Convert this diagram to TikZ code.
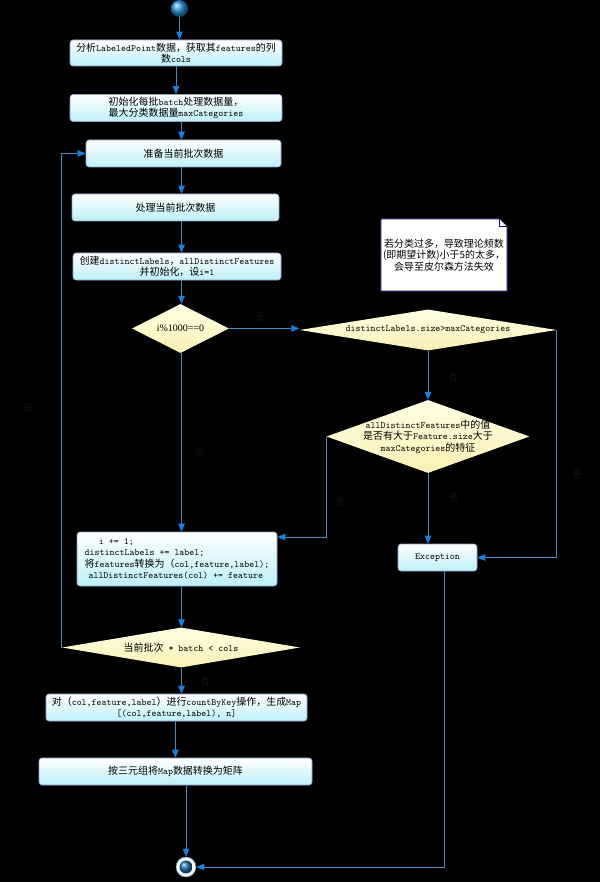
\documentclass[tikz,border=0pt]{standalone}
\usepackage{fontspec}
\newfontfamily\cjk[Scale=1.05]{Noto Sans CJK SC}
\newfontfamily\tnr{Liberation Serif}
\usetikzlibrary{shapes.geometric,arrows.meta}
\newcommand\zh[1]{{\cjk #1}}
\definecolor{boxline}{RGB}{140,160,210}
\definecolor{boxcyan}{RGB}{188,240,248}
\definecolor{diatop}{RGB}{255,255,228}
\definecolor{diabot}{RGB}{250,240,180}
\definecolor{linec}{RGB}{70,140,195}
\definecolor{tipc}{RGB}{20,130,220}
\definecolor{faintc}{RGB}{22,22,22}
\definecolor{notenavy}{RGB}{20,20,110}
\definecolor{startblue}{RGB}{40,150,220}
\definecolor{endblue}{RGB}{30,110,180}
\tikzset{
  txt/.style={font=\ttfamily\fontsize{9.5}{11.5}\selectfont, align=center},
  box/.style={txt, rounded corners=3pt, draw=boxline, line width=0.6pt,
    top color=white, bottom color=boxcyan, inner sep=0pt},
  dia/.style={diamond, inner sep=0pt, top color=diatop, bottom color=diabot, draw=none},
  arr/.style={draw=linec, line width=0.7pt, -{Triangle[length=8pt,width=6.5pt,color=tipc]}},
  faint/.style={text=faintc, font=\cjk\fontsize{9}{10}\selectfont},
}
\begin{document}
\begin{tikzpicture}[x=1pt,y=-1pt]
\useasboundingbox (0,0) rectangle (600,882);
\fill[black] (0,0) rectangle (600,882);
\coordinate (ax) at (181.5,0);

% start / end
\node[circle, minimum size=17pt, inner sep=0pt, ball color=startblue] (start) at (179.5,8.5) {};
\node[circle, minimum size=20pt, inner sep=0pt, fill=white, draw=linec, line width=0.5pt] (end) at (186,867) {};
\node[circle, minimum size=13pt, inner sep=0pt, ball color=endblue] (endin) at (end) {};

% boxes
\node[box, minimum width=212pt, minimum height=26pt] (b1) at (176,53)
  {\zh{分析}LabeledPoint\zh{数据，获取其}features\zh{的列}\\\zh{数}cols};
\node[box, minimum width=212pt, minimum height=27pt] (b2) at (176,108)
  {\zh{初始化每批}batch\zh{处理数据量，}\\\zh{最大分类数据量}maxCategories};
\node[box, minimum width=195pt, minimum height=27pt] (b3) at (183.5,153.5)
  {\zh{准备当前批次数据}};
\node[box, minimum width=207pt, minimum height=27pt] (b4) at (175.5,207.5)
  {\zh{处理当前批次数据}};
\node[box, minimum width=208pt, minimum height=27pt] (b5) at (177,266.5)
  {\zh{创建}distinctLabels\zh{，}allDistinctFeatures\\\zh{并初始化，设}i=1};
\node[box, align=left, minimum width=200pt, minimum height=54pt] (b6) at (177,559)
  {\hspace*{1.5em}i += 1;\\distinctLabels += label;\\\zh{将}features\zh{转换为（}col,feature,label);\\\hspace*{0.4em}allDistinctFeatures(col) += feature};
\node[box, minimum width=79pt, minimum height=27pt] (exc) at (437.5,557.5) {Exception};
\node[box, minimum width=261pt, minimum height=27pt] (b7) at (176.5,707.5)
  {\zh{对（}col,feature,label\zh{）进行}countByKey\zh{操作，生成}Map\\{[}(col,feature,label), n]};
\node[box, minimum width=273pt, minimum height=27pt] (b8) at (175.5,771.5)
  {\zh{按三元组将}Map\zh{数据转换为矩阵}};

% diamonds
\node[dia, minimum width=97pt, minimum height=49pt] (d1) at (180.5,328.5) {};
\node[txt, font=\tnr\fontsize{10}{12}\selectfont] (t1) at (d1) {i\%1000==0};
\node[dia, minimum width=257pt, minimum height=41pt] (d2) at (428,330) {};
\node[txt] (t2) at (d2) {distinctLabels.size>maxCategories};
\node[dia, minimum width=203pt, minimum height=73pt] (d3) at (428,436.5) {};
\node[txt] (t3) at (d3) {allDistinctFeatures\zh{中的值}\\\zh{是否有大于}Feature.size\zh{大于}\\maxCategories\zh{的特征}};
\node[dia, minimum width=238pt, minimum height=40pt] (d4) at (181,647.5) {};
\node[txt] (t4) at (d4) {\zh{当前批次} * batch < cols};

% note
\node[minimum width=126pt, minimum height=72pt, inner sep=0pt] (note) at (444,255) {};
\draw[draw=notenavy, line width=1pt, fill=white]
  (note.south west) -- (note.north west) -- ([xshift=-8pt]note.north east)
  -- ([yshift=-8pt]note.north east) -- (note.south east) -- cycle;
\draw[draw=notenavy, line width=0.8pt, fill=white]
  ([xshift=-8pt]note.north east) -- ([xshift=-8pt,yshift=-8pt]note.north east) -- ([yshift=-8pt]note.north east);
\node[txt, font=\cjk\fontsize{9.5}{11.5}\selectfont] (notetext) at (note)
  {若分类过多，导致理论频数\\(即期望计数)小于5的太多，\\会导至皮尔森方法失效};

% connectors
\draw[arr] (start.south) -- (start.south |- b1.north);
\draw[arr] (b1.south) -- (b2.north);
\draw[arr] (b2.south -| ax) -- (b3.north -| ax);
\draw[arr] (b3.south -| ax) -- (b4.north -| ax);
\draw[arr] (b4.south -| ax) -- (b5.north -| ax);
\draw[arr] (b5.south -| ax) -- (d1.north -| ax);
\draw[arr] (d1.east) -- (d1.east -| d2.west);
\draw[arr] (d1.south -| ax) -- (b6.north -| ax);
\draw[arr] (d2.south) -- (d3.north);
\draw[arr] (d2.east) |- (exc.east);
\draw[arr] (d3.west) |- ([yshift=22pt]b6.east);
\draw[arr] (d3.south) -- (d3.south |- exc.north);
\draw[arr] (b6.south -| ax) -- (d4.north -| ax);
\draw[arr] (d4.west) |- (b3.west);
\draw[arr] (d4.south -| ax) -- (b7.north -| ax);
\draw[arr] (b7.south -| b8) -- (b8.north);
\draw[arr] (b8.south -| end) -- (end.north);
\draw[arr] ([xshift=6.5pt]exc.south) |- (end.east);

% faint branch labels
\node[faint] (l1) at (260,317) {是};
\node[faint] (l2) at (200,452) {否};
\node[faint] (l3) at (453,378) {否};
\node[faint] (l4) at (577,475) {是};
\node[faint] (l5) at (453,498) {是};
\node[faint] (l6) at (340,502) {否};
\node[faint] (l7) at (28,408) {是};
\node[faint] (l8) at (205,682) {否};
\end{tikzpicture}
\end{document}
